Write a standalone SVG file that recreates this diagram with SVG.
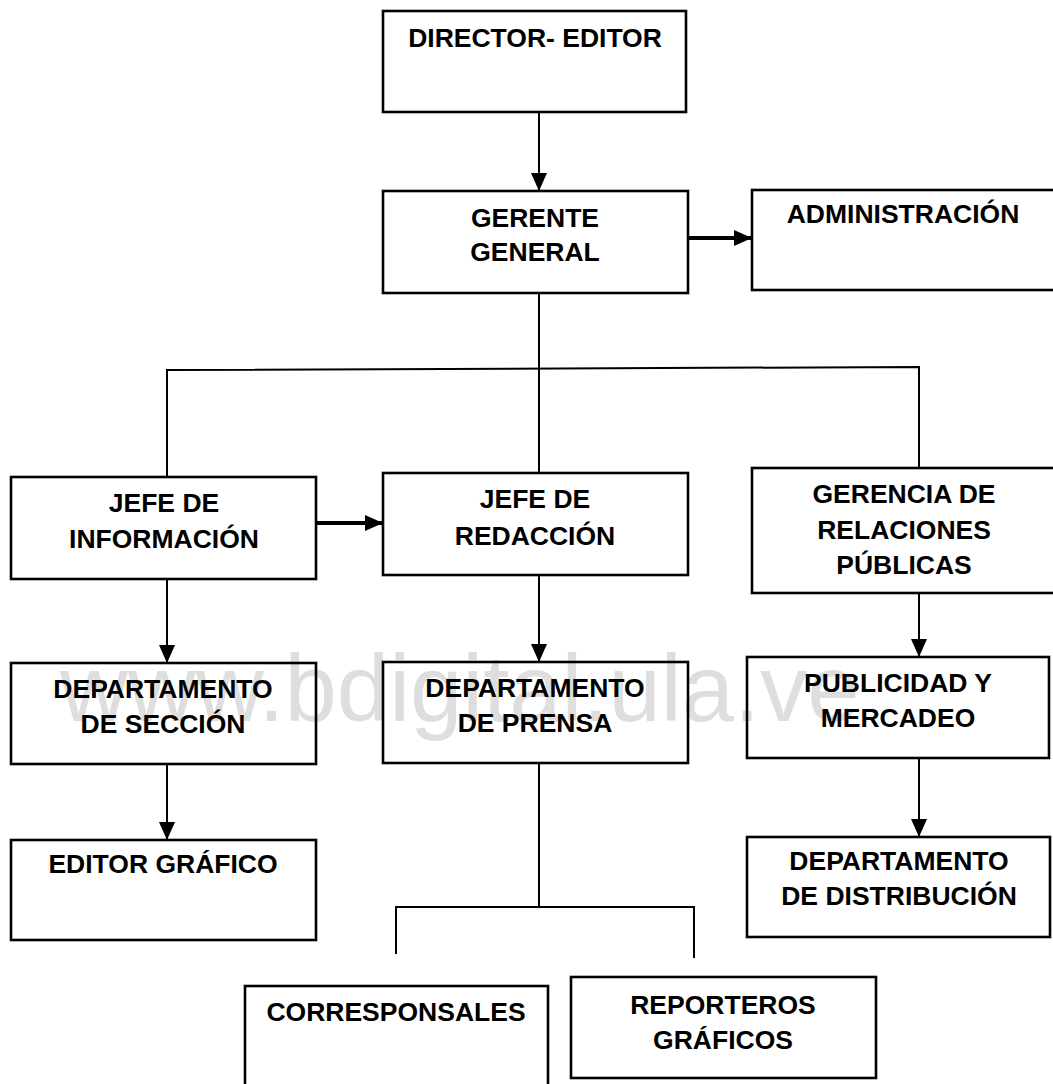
<svg xmlns="http://www.w3.org/2000/svg" width="1053" height="1084" viewBox="0 0 1053 1084">
<style>
.box{fill:none;stroke:#000;stroke-width:2.6}
.lbl{font-family:"Liberation Sans",Arial,sans-serif;font-weight:bold;font-size:26.5px;fill:#000;text-anchor:middle}
.wm{font-family:"Liberation Sans",Arial,sans-serif;font-size:94px;fill:#dedede}
.ln{fill:none;stroke:#000;stroke-width:2}
.thick{fill:none;stroke:#000;stroke-width:4}
</style>
<defs>
<marker id="ah" markerUnits="userSpaceOnUse" markerWidth="18" markerHeight="16" refX="18" refY="8" orient="auto">
<path d="M0,0 L18,8 L0,16 z" fill="#000"/>
</marker>
</defs>
<rect width="1053" height="1084" fill="#fff"/>
<text class="wm" x="60" y="721">www.bdigital.ula.ve</text>
<g id="connectors">
<line class="ln" x1="539" y1="112" x2="539" y2="191" marker-end="url(#ah)"/>
<line class="thick" x1="688" y1="238" x2="752" y2="238" marker-end="url(#ah)"/>
<line class="ln" x1="539" y1="293" x2="539" y2="473"/>
<polyline class="ln" points="167,477 167,370 919,367 919,468"/>
<line class="thick" x1="316" y1="523" x2="383" y2="523" marker-end="url(#ah)"/>
<line class="ln" x1="167" y1="579" x2="167" y2="663" marker-end="url(#ah)"/>
<line class="ln" x1="539" y1="575" x2="539" y2="662" marker-end="url(#ah)"/>
<line class="ln" x1="919" y1="593" x2="919" y2="657" marker-end="url(#ah)"/>
<line class="ln" x1="167" y1="764" x2="167" y2="840" marker-end="url(#ah)"/>
<line class="ln" x1="919" y1="758" x2="919" y2="837" marker-end="url(#ah)"/>
<line class="ln" x1="539" y1="763" x2="539" y2="907"/>
<polyline class="ln" points="396,954 396,907 694,907 694,958"/>
</g>
<g id="director"><rect class="box" x="383" y="11" width="303" height="101"/><text class="lbl" x="535" y="47">DIRECTOR- EDITOR</text></g>
<g id="gerente"><rect class="box" x="383" y="191" width="305" height="102"/><text class="lbl" x="535" y="227">GERENTE</text><text class="lbl" x="535" y="261">GENERAL</text></g>
<g id="administracion"><rect class="box" x="752" y="190" width="320" height="100"/><text class="lbl" x="903" y="223">ADMINISTRACIÓN</text></g>
<g id="jefe-informacion"><rect class="box" x="11" y="477" width="305" height="102"/><text class="lbl" x="164" y="512">JEFE DE</text><text class="lbl" x="164" y="548">INFORMACIÓN</text></g>
<g id="jefe-redaccion"><rect class="box" x="383" y="473" width="305" height="102"/><text class="lbl" x="535" y="508">JEFE DE</text><text class="lbl" x="535" y="545">REDACCIÓN</text></g>
<g id="gerencia-rp"><rect class="box" x="752" y="468" width="320" height="125"/><text class="lbl" x="904" y="503">GERENCIA DE</text><text class="lbl" x="904" y="539">RELACIONES</text><text class="lbl" x="904" y="574">PÚBLICAS</text></g>
<g id="dep-seccion"><rect class="box" x="11" y="663" width="305" height="101"/><text class="lbl" x="163" y="698">DEPARTAMENTO</text><text class="lbl" x="163" y="733">DE SECCIÓN</text></g>
<g id="dep-prensa"><rect class="box" x="383" y="662" width="305" height="101"/><text class="lbl" x="535" y="697">DEPARTAMENTO</text><text class="lbl" x="535" y="732">DE PRENSA</text></g>
<g id="publicidad"><rect class="box" x="747" y="657" width="302" height="101"/><text class="lbl" x="898" y="692">PUBLICIDAD Y</text><text class="lbl" x="898" y="727">MERCADEO</text></g>
<g id="editor-grafico"><rect class="box" x="11" y="840" width="305" height="100"/><text class="lbl" x="163" y="873">EDITOR GRÁFICO</text></g>
<g id="dep-distribucion"><rect class="box" x="747" y="837" width="303" height="100"/><text class="lbl" x="899" y="870">DEPARTAMENTO</text><text class="lbl" x="899" y="905">DE DISTRIBUCIÓN</text></g>
<g id="corresponsales"><rect class="box" x="245" y="986" width="303" height="120"/><text class="lbl" x="396" y="1021">CORRESPONSALES</text></g>
<g id="reporteros"><rect class="box" x="571" y="977" width="305" height="101"/><text class="lbl" x="723" y="1014">REPORTEROS</text><text class="lbl" x="723" y="1049">GRÁFICOS</text></g>
</svg>
